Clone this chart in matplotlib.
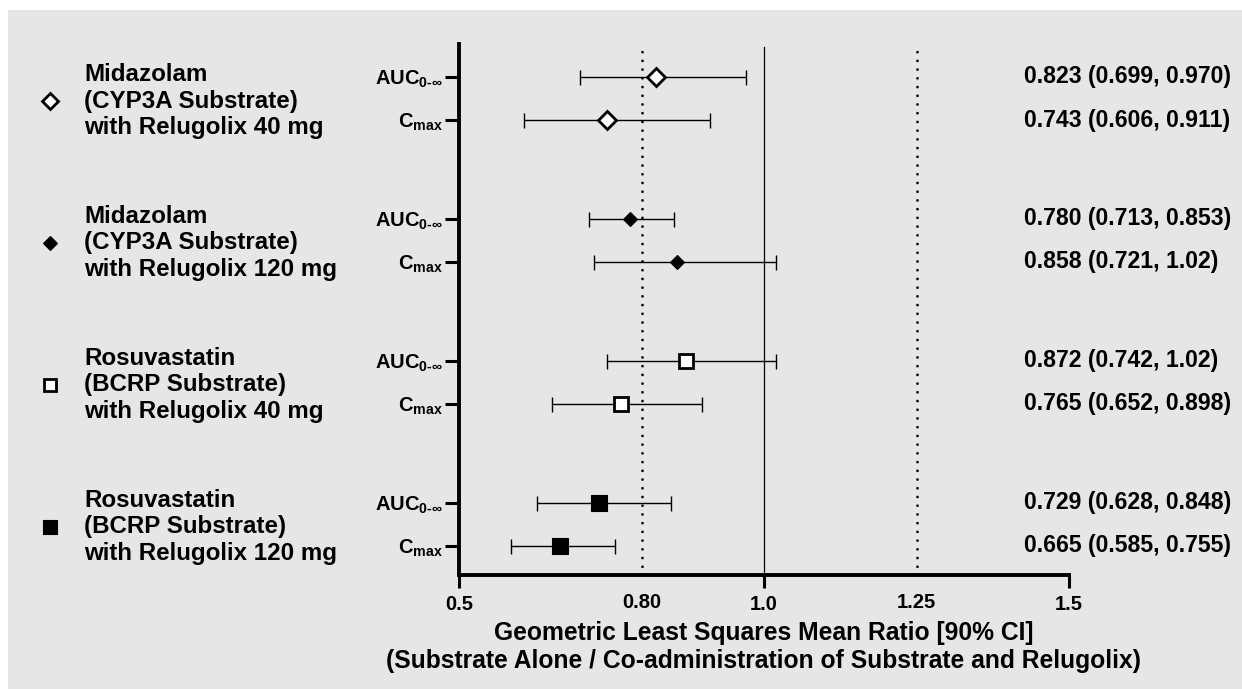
import matplotlib
matplotlib.use("Agg")
import matplotlib.pyplot as plt
import matplotlib.transforms as mtransforms
from matplotlib.patches import Rectangle

# ---- data -------------------------------------------------------------
groups = [
    "Midazolam\n(CYP3A Substrate)\nwith Relugolix 40 mg",
    "Midazolam\n(CYP3A Substrate)\nwith Relugolix 120 mg",
    "Rosuvastatin\n(BCRP Substrate)\nwith Relugolix 40 mg",
    "Rosuvastatin\n(BCRP Substrate)\nwith Relugolix 120 mg",
]
params = [r"$\mathrm{AUC}_{\mathrm{0\text{-}\infty}}$", r"$\mathrm{C}_{\mathrm{max}}$"]

gmr = [0.823, 0.743, 0.780, 0.858, 0.872, 0.765, 0.729, 0.665]
ci_low = [0.699, 0.606, 0.713, 0.721, 0.742, 0.652, 0.628, 0.585]
ci_high = [0.970, 0.911, 0.853, 1.02, 1.02, 0.898, 0.848, 0.755]

ref_lines_dotted = [0.80, 1.25]
ref_line_solid = 1.0
major_ticks = [0.5, 1.0, 1.5]
major_labels = ["0.5", "1.0", "1.5"]
minor_ticks = [0.80, 1.25]
minor_labels = ["0.80", "1.25"]

# marker style per group: (marker, facecolor, size in pt)
styles = [("D", "white", 8.8), ("D", "black", 7.6), ("s", "white", 10.5), ("s", "black", 11.3)]
legend_sizes = [8.0, 7.0, 8.8, 10.5]

# ---- styling ----------------------------------------------------------
plt.rcParams["font.family"] = ["Liberation Sans", "DejaVu Sans"]
plt.rcParams["font.weight"] = "bold"
plt.rcParams["mathtext.fontset"] = "custom"
plt.rcParams["mathtext.rm"] = "Liberation Sans:bold"
plt.rcParams["mathtext.it"] = "Liberation Sans:bold"
plt.rcParams["mathtext.bf"] = "Liberation Sans:bold"

W, H = 1242, 689
fig = plt.figure(figsize=(W / 100, H / 100), dpi=100)
fig.patch.set_facecolor("white")
fig.add_artist(Rectangle((8 / W, 0), 1 - 8 / W, (H - 10) / H, transform=fig.transFigure,
                         facecolor="#e6e6e6", edgecolor="none", zorder=-10))

ax_left, ax_right, ax_top, ax_bottom = 459, 1069, 44, 575
ax = fig.add_axes([ax_left / W, (H - ax_bottom) / H, (ax_right - ax_left) / W,
                   (ax_bottom - ax_top) / H])
ax.set_facecolor("none")

# row layout: two rows per group
group_step, row_step = 3.3, 1.0
ypos = []
for g in range(len(groups)):
    for r in range(len(params)):
        ypos.append(g * group_step + r * row_step)

px_per_unit = 43.0
first_row_px = 77
ax.set_xlim(0.5, 1.5)
ax.set_ylim((ax_bottom - first_row_px) / px_per_unit, (ax_top - first_row_px) / px_per_unit)

# reference lines
vtop = (ax_bottom - 47) / (ax_bottom - ax_top)
for xv in ref_lines_dotted:
    ax.axvline(xv, ymin=0, ymax=vtop, color="black", lw=2.0,
               linestyle=(0, (0.01, 3.13)), dash_capstyle="round", zorder=1)
ax.axvline(ref_line_solid, ymin=0, ymax=vtop, color="black", lw=0.9, zorder=1)

# estimates with confidence intervals
for k, (m, lo, hi, y) in enumerate(zip(gmr, ci_low, ci_high, ypos)):
    mk, fc, ms = styles[k // 2]
    ax.errorbar([m], [y], xerr=[[m - lo], [hi - m]], fmt="none", ecolor="black",
                elinewidth=1.0, capsize=5.4, capthick=1.0, zorder=2)
    ax.plot([m], [y], marker=mk, ms=ms, mfc=fc, mec="black",
            mew=2.0 if fc == "white" else 0.8, linestyle="none", zorder=3)

# spines and ticks
for s in ["top", "right"]:
    ax.spines[s].set_visible(False)
for s in ["left", "bottom"]:
    ax.spines[s].set_linewidth(2.8)
    ax.spines[s].set_capstyle("projecting")

ax.set_yticks(ypos)
ax.set_yticklabels(params * len(groups), fontsize=14.5, fontweight="bold")
ax.tick_params(axis="y", direction="out", length=10, width=2.2, pad=1.5)

ax.set_xticks(major_ticks)
ax.set_xticklabels(major_labels, fontsize=14.5, fontweight="bold")
ax.set_xticks(minor_ticks, minor=True)
ax.set_xticklabels(minor_labels, minor=True, fontsize=14.5, fontweight="bold")
ax.tick_params(axis="x", which="major", direction="out", length=9.5, width=2.2, pad=5)
ax.tick_params(axis="x", which="minor", length=0, pad=13)

ax.set_xlabel("Geometric Least Squares Mean Ratio [90% CI]\n"
              "(Substrate Alone / Co-administration of Substrate and Relugolix)",
              fontsize=17.7, fontweight="bold", linespacing=1.2, labelpad=5)

# group labels with legend markers on the left
blend = mtransforms.blended_transform_factory(fig.transFigure, ax.transData)
for g, name in enumerate(groups):
    yc = g * group_step + row_step / 2 + 0.06
    mk, fc, _ = styles[g]
    ax.plot([50 / W], [yc], marker=mk, ms=legend_sizes[g], mfc=fc, mec="black",
            mew=2.0 if fc == "white" else 0.8, transform=blend, clip_on=False,
            linestyle="none")
    ax.text(84 / W, yc, name, transform=blend, ha="left", va="center",
            fontsize=17.4, fontweight="bold", linespacing=1.2)

# estimate text on the right
for m, lo, hi, y in zip(gmr, ci_low, ci_high, ypos):
    ax.text(1024 / W, y, f"{m:#.3g} ({lo:#.3g}, {hi:#.3g})", transform=blend,
            ha="left", va="center", fontsize=16.6, fontweight="bold")

fig.savefig("out.png", dpi=100)
